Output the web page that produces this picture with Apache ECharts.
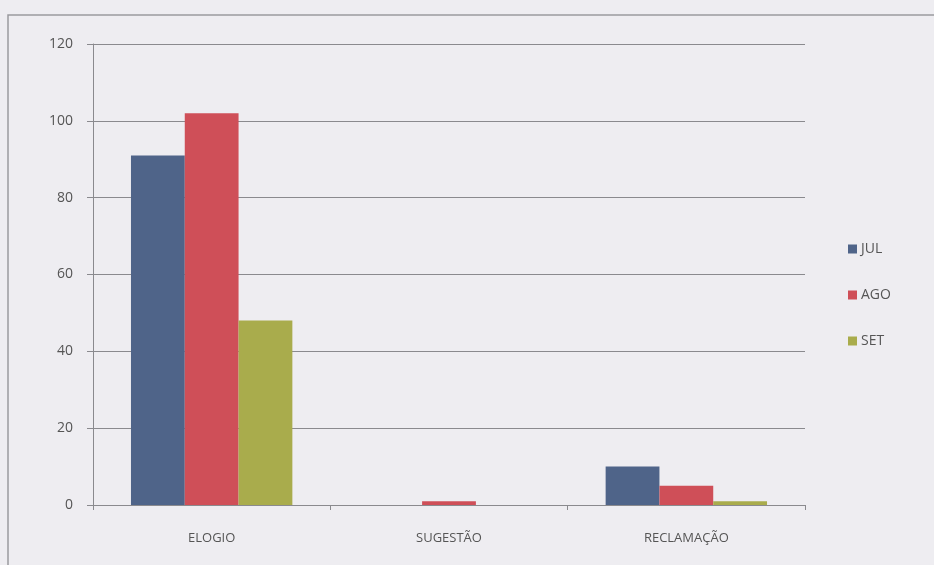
<!DOCTYPE html>
<html><head><meta charset="utf-8">
<script src="https://cdn.jsdelivr.net/npm/echarts@6/dist/echarts.min.js"></script>
<style>html,body{margin:0;padding:0;background:#eeedf1}#c{width:934px;height:565px}</style>
</head><body><div id="c"></div>
<script>
const categories = ['ELOGIO', 'SUGESTÃO', 'RECLAMAÇÃO'];
const seriesNames = ['JUL', 'AGO', 'SET'];
const julValues = [91, 0, 10];
const agoValues = [102, 1, 5];
const setValues = [48, 0, 1];
const colors = ['#4f6489', '#cf4f58', '#a9ac4c'];
const allValues = [julValues, agoValues, setValues];

const chart = echarts.init(document.getElementById('c'));
chart.setOption({
  backgroundColor: '#eeedf1',
  animation: false,
  graphic: [{
    type: 'polyline', shape: { points: [[8, 565], [8, 15], [934, 15]] },
    style: { stroke: '#9a9a9e', lineWidth: 1.5, fill: null }
  }],
  legend: {
    orient: 'vertical', left: 843, top: 237, itemGap: 32,
    itemWidth: 9, itemHeight: 9, icon: 'rect',
    textStyle: { fontFamily: 'Open Sans', fontSize: 14, color: '#555', padding: [0, 0, 0, -1] },
    data: seriesNames
  },
  grid: { left: 93, right: 129, top: 44, bottom: 60 },
  xAxis: {
    type: 'category', data: categories,
    axisLine: { lineStyle: { color: '#8a8a8e' } },
    axisTick: { show: true, length: 5, lineStyle: { color: '#8a8a8e' } },
    axisLabel: { fontFamily: 'Open Sans', fontSize: 13, color: '#555', margin: 27 }
  },
  yAxis: {
    type: 'value', min: 0, max: 120, interval: 20,
    axisLine: { show: true, lineStyle: { color: '#8a8a8e' } },
    axisTick: { show: true, inside: false, length: 6, lineStyle: { color: '#8a8a8e' } },
    axisLabel: { fontFamily: 'Open Sans', fontSize: 14, color: '#555', margin: 20 },
    splitLine: { lineStyle: { color: '#8a8a8e', width: 1 } }
  },
  series: seriesNames.map((n, i) => ({
    name: n, type: 'bar', data: allValues[i],
    itemStyle: { color: colors[i] },
    barGap: '0%', barCategoryGap: '32%'
  }))
});
</script></body></html>
